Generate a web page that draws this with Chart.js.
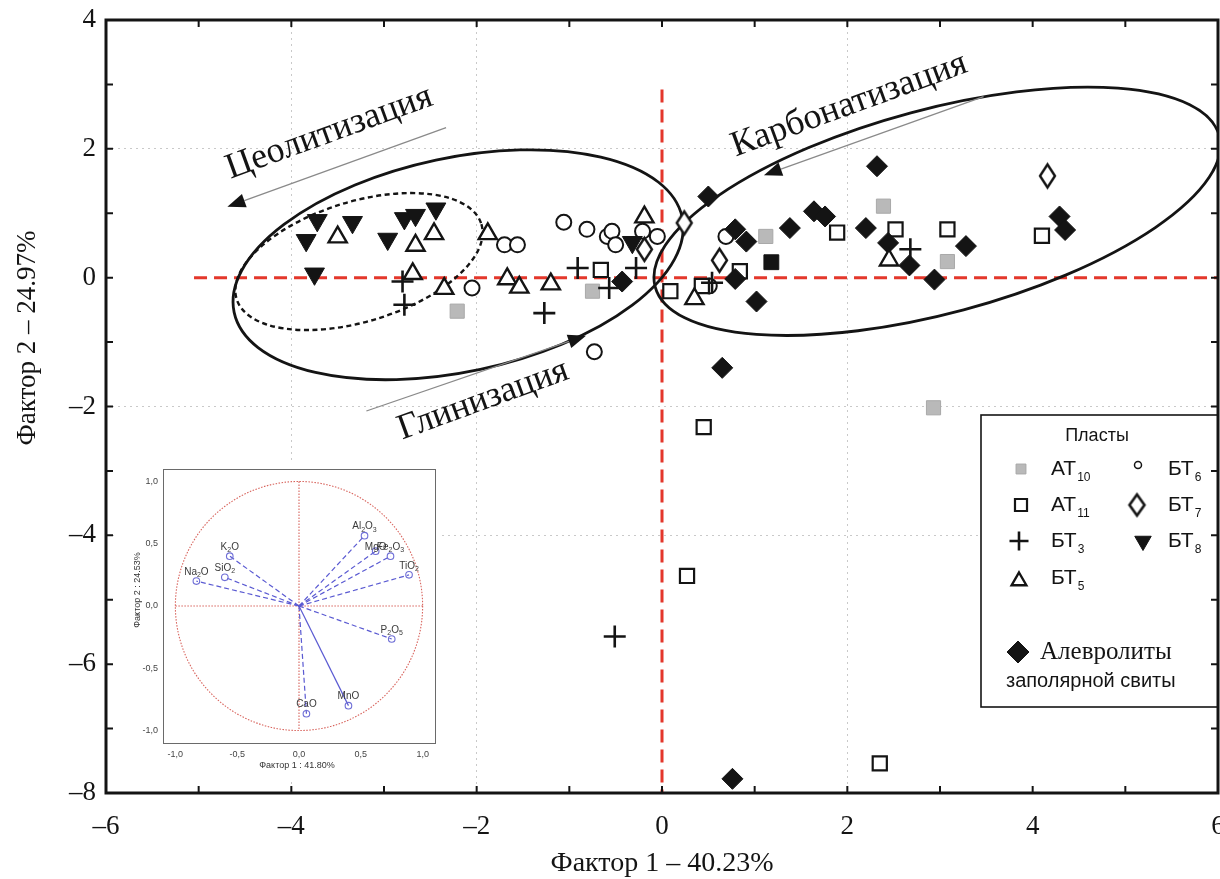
<!DOCTYPE html>
<html>
<head>
<meta charset="utf-8">
<script src="https://cdn.jsdelivr.net/npm/chart.js@4.4.1/dist/chart.umd.min.js"></script>
<style>
  html, body { margin: 0; padding: 0; background: #fff; overflow: hidden; }
  #wrap { position: relative; width: 1220px; height: 879px; }
  #inset { position: absolute; left: 118px; top: 462px; }
</style>
</head>
<body>
<div id="wrap">
  <canvas id="main" width="1220" height="879"></canvas>
  <canvas id="inset" width="322" height="318"></canvas>
</div>
<script>
// ---- data: [factor1, factor2] ----
const at10 = [[-2.21, -0.52], [-0.75, -0.21], [1.12, 0.64], [2.39, 1.11], [3.08, 0.25], [2.93, -2.02]];
const at11 = [[-0.66, 0.12], [0.09, -0.21], [0.43, -0.13], [0.84, 0.10], [1.89, 0.70], [2.52, 0.75],
  [3.08, 0.75], [4.10, 0.65], [0.45, -2.32], [0.27, -4.63], [2.35, -7.54]];
const bt3 = [[-2.80, -0.06], [-2.78, -0.42], [-0.91, 0.15], [-1.27, -0.55], [-0.28, 0.15], [-0.57, -0.16],
  [0.54, -0.08], [2.68, 0.44], [-0.51, -5.57]];
const bt5 = [[-3.50, 0.63], [-2.66, 0.50], [-2.46, 0.68], [-2.69, 0.06], [-2.35, -0.17], [-1.88, 0.68],
  [-1.67, -0.02], [-1.54, -0.15], [-1.20, -0.10], [-0.19, 0.94], [0.35, -0.33], [2.45, 0.27]];
const bt6 = [[-1.06, 0.86], [-0.81, 0.75], [-0.59, 0.64], [-0.54, 0.72], [-0.50, 0.51], [-0.21, 0.72],
  [-0.05, 0.64], [-1.70, 0.51], [-1.56, 0.51], [-0.73, -1.15], [-2.05, -0.16], [0.69, 0.64], [0.51, -0.13]];
const bt7 = [[0.24, 0.85], [0.62, 0.27], [-0.19, 0.44], [4.16, 1.58]];
const bt8 = [[-3.72, 0.89], [-3.84, 0.58], [-3.34, 0.86], [-3.75, 0.06], [-2.96, 0.60], [-2.78, 0.92],
  [-2.66, 0.97], [-2.44, 1.07], [-0.32, 0.55]];
const alev = [[0.50, 1.26], [0.79, 0.75], [0.91, 0.56], [0.79, -0.02], [1.02, -0.37], [1.38, 0.77],
  [1.64, 1.03], [1.76, 0.95], [2.20, 0.77], [2.44, 0.54], [0.65, -1.40], [-0.43, -0.06], [2.32, 1.73],
  [2.67, 0.19], [2.94, -0.03], [3.28, 0.49], [4.29, 0.95], [4.35, 0.74], [0.76, -7.78]];
const blackSq = [[1.18, 0.24]];

// inset: factor loadings
const loadNames = ['Na2O', 'SiO2', 'K2O', 'Al2O3', 'MgO', 'Fe2O3', 'TiO2', 'P2O5', 'MnO', 'CaO'];
const loadX = [-0.83, -0.60, -0.56, 0.53, 0.62, 0.74, 0.89, 0.75, 0.40, 0.06];
const loadY = [0.20, 0.23, 0.40, 0.565, 0.44, 0.40, 0.25, -0.265, -0.80, -0.865];

const SERIF = '"Liberation Serif", "Times New Roman", serif';
const SANS = '"Liberation Sans", Arial, sans-serif';
const INK = '#141414';

const pts = arr => arr.map(p => ({ x: p[0], y: p[1] }));
const fmt = v => (v < 0 ? '\u2013' + Math.abs(v) : String(v));

// tall open diamond used for БТ7
function diamond(w, h, lw) {
  const c = document.createElement('canvas');
  c.width = w + 8;
  c.height = h + 8;
  const g = c.getContext('2d');
  g.beginPath();
  g.moveTo(c.width / 2, 4);
  g.lineTo(c.width - 4, c.height / 2);
  g.lineTo(c.width / 2, c.height - 4);
  g.lineTo(4, c.height / 2);
  g.closePath();
  g.fillStyle = '#fff';
  g.fill();
  g.lineWidth = lw;
  g.strokeStyle = INK;
  g.stroke();
  return c;
}
const diamondPlot = diamond(15, 23, 2.4);
const diamondLegend = diamond(15, 21, 2.6);

// annotations
const ellipses = [
  { cx: -2.20, cy: 0.20, rx: 229, ry: 107, rot: -12, dash: [] },
  { cx: -3.27, cy: 0.25, rx: 128, ry: 60, rot: -17, dash: [5, 3.5] },
  { cx: 2.97, cy: 1.03, rx: 292, ry: 102, rot: -15, dash: [] },
];
const arrows = [
  { from: [-2.33, 2.33], to: [-4.69, 1.10] },
  { from: [3.47, 2.81], to: [1.10, 1.59] },
  { from: [-3.19, -2.07], to: [-0.82, -0.90] },
];
const processLabels = [
  { text: 'Цеолитизация', x: -3.59, y: 2.25 },
  { text: 'Карбонатизация', x: 2.02, y: 2.68 },
  { text: 'Глинизация', x: -1.93, y: -1.90 },
];

function mark(ctx, opt, x, y) {
  ctx.save();
  ctx.fillStyle = opt.fill;
  ctx.strokeStyle = opt.stroke;
  ctx.lineWidth = opt.lw;
  Chart.helpers.drawPoint(ctx, { pointStyle: opt.style, radius: opt.r, rotation: opt.rot || 0, borderWidth: opt.lw }, x, y);
  ctx.restore();
}

function subText(ctx, base, sub, x, y, bigFont, smallFont, dy) {
  ctx.font = bigFont;
  ctx.fillText(base, x, y);
  const w = ctx.measureText(base).width;
  ctx.font = smallFont;
  ctx.fillText(sub, x + w + 1, y + dy);
}

const decor = {
  id: 'decor',
  beforeDatasetsDraw(chart) {
    const { ctx, chartArea: a, scales: { x, y } } = chart;
    ctx.save();
    ctx.beginPath();
    ctx.rect(a.left, a.top, a.right - a.left, a.bottom - a.top);
    ctx.clip();

    // red zero lines
    ctx.strokeStyle = '#e4372b';
    ctx.lineWidth = 3;
    ctx.setLineDash([13, 7]);
    ctx.beginPath();
    ctx.moveTo(x.getPixelForValue(-5.05), y.getPixelForValue(0));
    ctx.lineTo(a.right, y.getPixelForValue(0));
    ctx.moveTo(x.getPixelForValue(0), y.getPixelForValue(2.92));
    ctx.lineTo(x.getPixelForValue(0), a.bottom);
    ctx.stroke();

    // ellipses
    ctx.strokeStyle = INK;
    ellipses.forEach(e => {
      ctx.setLineDash(e.dash);
      ctx.lineWidth = e.dash.length ? 2.4 : 2.8;
      ctx.beginPath();
      ctx.ellipse(x.getPixelForValue(e.cx), y.getPixelForValue(e.cy), e.rx, e.ry, e.rot * Math.PI / 180, 0, Math.PI * 2);
      ctx.stroke();
    });
    ctx.setLineDash([]);

    // arrows
    arrows.forEach(ar => {
      const x0 = x.getPixelForValue(ar.from[0]), y0 = y.getPixelForValue(ar.from[1]);
      const x1 = x.getPixelForValue(ar.to[0]), y1 = y.getPixelForValue(ar.to[1]);
      const ang = Math.atan2(y1 - y0, x1 - x0);
      const L = 18, W = 7;
      const bx = x1 - Math.cos(ang) * L, by = y1 - Math.sin(ang) * L;
      ctx.strokeStyle = '#8a8a8a';
      ctx.lineWidth = 1.3;
      ctx.beginPath();
      ctx.moveTo(x0, y0);
      ctx.lineTo(bx, by);
      ctx.stroke();
      ctx.fillStyle = INK;
      ctx.beginPath();
      ctx.moveTo(x1, y1);
      ctx.lineTo(bx + Math.sin(ang) * W, by - Math.cos(ang) * W);
      ctx.lineTo(bx - Math.sin(ang) * W, by + Math.cos(ang) * W);
      ctx.closePath();
      ctx.fill();
    });

    // process names
    ctx.fillStyle = INK;
    ctx.font = '36px ' + SERIF;
    ctx.textAlign = 'center';
    ctx.textBaseline = 'middle';
    processLabels.forEach(t => {
      ctx.save();
      ctx.translate(x.getPixelForValue(t.x), y.getPixelForValue(t.y));
      ctx.rotate(-20 * Math.PI / 180);
      ctx.fillText(t.text, 0, 0);
      ctx.restore();
    });
    ctx.restore();
  },
  afterDraw(chart) {
    const { ctx, chartArea: a, scales: { x, y } } = chart;
    ctx.save();

    // legend box
    const L = { left: 981, top: 415, right: a.right, bottom: 707 };
    ctx.fillStyle = '#fff';
    ctx.fillRect(L.left, L.top, L.right - L.left, L.bottom - L.top);
    ctx.strokeStyle = INK;
    ctx.lineWidth = 1.6;
    ctx.strokeRect(L.left, L.top, L.right - L.left, L.bottom - L.top);

    ctx.fillStyle = INK;
    ctx.textBaseline = 'middle';
    ctx.textAlign = 'center';
    ctx.font = '18px ' + SANS;
    ctx.fillText('Пласты', 1097, 436);
    ctx.textAlign = 'left';

    const big = '21px ' + SANS, small = '12px ' + SANS;
    const rows = [469, 505, 541, 578];
    mark(ctx, { style: 'rect', r: 7, fill: '#b9b9b9', stroke: '#a8a8a8', lw: 1 }, 1021, rows[0]);
    mark(ctx, { style: 'rect', r: 8.5, fill: '#fff', stroke: INK, lw: 2.2 }, 1021, rows[1]);
    mark(ctx, { style: 'cross', r: 9.5, fill: INK, stroke: INK, lw: 2.6 }, 1019, rows[2]);
    mark(ctx, { style: 'triangle', r: 8.5, fill: '#fff', stroke: INK, lw: 2.4 }, 1019, rows[3] + 3);
    mark(ctx, { style: 'circle', r: 3.5, fill: '#fff', stroke: INK, lw: 1.5 }, 1138, rows[0] - 4);
    mark(ctx, { style: diamondLegend, r: 10, fill: '#fff', stroke: INK, lw: 0 }, 1137, rows[1]);
    mark(ctx, { style: 'triangle', r: 9.5, rot: 180, fill: INK, stroke: INK, lw: 1 }, 1143, rows[2]);
    ctx.fillStyle = INK;
    subText(ctx, 'АТ', '10', 1051, rows[0], big, small, 9);
    subText(ctx, 'АТ', '11', 1051, rows[1], big, small, 9);
    subText(ctx, 'БТ', '3', 1051, rows[2], big, small, 9);
    subText(ctx, 'БТ', '5', 1051, rows[3], big, small, 9);
    subText(ctx, 'БТ', '6', 1168, rows[0], big, small, 9);
    subText(ctx, 'БТ', '7', 1168, rows[1], big, small, 9);
    subText(ctx, 'БТ', '8', 1168, rows[2], big, small, 9);

    mark(ctx, { style: 'rectRot', r: 11, fill: INK, stroke: INK, lw: 1 }, 1018, 652);
    ctx.fillStyle = INK;
    ctx.font = '25px ' + SERIF;
    ctx.fillText('Алевролиты', 1040, 652);
    ctx.font = '20px ' + SANS;
    ctx.fillText('заполярной свиты', 1006, 681);

    // frame
    ctx.strokeStyle = INK;
    ctx.lineWidth = 3;
    ctx.strokeRect(a.left, a.top, a.right - a.left, a.bottom - a.top);

    // inward tick marks on all sides
    ctx.lineWidth = 2;
    ctx.beginPath();
    for (let v = -6; v <= 6; v++) {
      const p = x.getPixelForValue(v);
      ctx.moveTo(p, a.bottom); ctx.lineTo(p, a.bottom - 7);
      ctx.moveTo(p, a.top); ctx.lineTo(p, a.top + 7);
    }
    for (let v = -8; v <= 4; v++) {
      const p = y.getPixelForValue(v);
      ctx.moveTo(a.left, p); ctx.lineTo(a.left + 7, p);
      ctx.moveTo(a.right, p); ctx.lineTo(a.right - 7, p);
    }
    ctx.stroke();

    // axis titles
    ctx.fillStyle = INK;
    ctx.textAlign = 'center';
    ctx.textBaseline = 'middle';
    ctx.font = '28px ' + SERIF;
    ctx.fillText('Фактор 1 \u2013 40.23%', 662, 864);
    ctx.font = '27px ' + SERIF;
    ctx.save();
    ctx.translate(28, 338);
    ctx.rotate(-Math.PI / 2);
    ctx.fillText('Фактор 2 \u2013 24.97%', 0, 0);
    ctx.restore();

    ctx.restore();
  }
};

const gridColor = c => {
  const v = c.tick ? c.tick.value : 0;
  return (v === 0 || v === -6 || v === 6 || v === -8 || v === 4) ? 'rgba(0,0,0,0)' : '#c9c9c9';
};

new Chart(document.getElementById('main'), {
  type: 'scatter',
  data: {
    datasets: [
      { label: 'БТ7', data: pts(bt7), pointStyle: diamondPlot, pointRadius: 11 },
      { label: 'БТ5', data: pts(bt5), pointStyle: 'triangle', pointRadius: 10.5, backgroundColor: '#fff', borderColor: INK, borderWidth: 2.4 },
      { label: 'БТ3', data: pts(bt3), pointStyle: 'cross', pointRadius: 11, borderColor: INK, borderWidth: 2.6 },
      { label: 'Алевролиты', data: pts(alev), pointStyle: 'rectRot', pointRadius: 10.5, backgroundColor: INK, borderColor: INK, borderWidth: 1 },
      { label: 'БТ8', data: pts(bt8), pointStyle: 'triangle', rotation: 180, pointRadius: 11.5, backgroundColor: INK, borderColor: INK, borderWidth: 1 },
      { label: 'АТ11', data: pts(at11), pointStyle: 'rect', pointRadius: 10, backgroundColor: '#fff', borderColor: INK, borderWidth: 2.2 },
      { label: 'АТ10', data: pts(at10), pointStyle: 'rect', pointRadius: 10, backgroundColor: '#b9b9b9', borderColor: '#a9a9a9', borderWidth: 1 },
      { label: 'БТ6', data: pts(bt6), pointStyle: 'circle', pointRadius: 7.5, backgroundColor: '#fff', borderColor: INK, borderWidth: 2 },
      { label: 'black', data: pts(blackSq), pointStyle: 'rect', pointRadius: 10.5, backgroundColor: INK, borderColor: INK, borderWidth: 1 },
    ]
  },
  options: {
    responsive: false,
    animation: false,
    devicePixelRatio: 1,
    events: [],
    layout: { autoPadding: false, padding: { top: 20, right: 2, left: 0, bottom: 0 } },
    plugins: { legend: { display: false }, tooltip: { enabled: false } },
    scales: {
      x: {
        type: 'linear', min: -6, max: 6,
        ticks: { stepSize: 2, padding: 18, color: INK, font: { family: SERIF, size: 27 }, callback: fmt, maxRotation: 0, autoSkip: false },
        grid: { drawTicks: false, color: gridColor, lineWidth: 1 },
        border: { display: false, dash: [2, 4] },
        afterFit(s) { s.height = 86; s.paddingLeft = 0; s.paddingRight = 0; }
      },
      y: {
        type: 'linear', min: -8, max: 4,
        ticks: { stepSize: 2, padding: 10, color: INK, font: { family: SERIF, size: 27 }, callback: fmt, autoSkip: false },
        grid: { drawTicks: false, color: gridColor, lineWidth: 1 },
        border: { display: false, dash: [2, 4] },
        afterFit(s) { s.width = 106; s.paddingTop = 0; s.paddingBottom = 0; }
      }
    }
  },
  plugins: [decor]
});

// ---- inset: loadings circle ----
const insetDecor = {
  id: 'insetDecor',
  beforeDraw(chart) {
    const { ctx, width, height } = chart;
    ctx.save();
    ctx.fillStyle = '#fff';
    ctx.fillRect(0, 0, width, height);
    ctx.restore();
  },
  beforeDatasetsDraw(chart) {
    const { ctx, scales: { x, y } } = chart;
    const cx = x.getPixelForValue(0), cy = y.getPixelForValue(0);
    const rx = x.getPixelForValue(1) - cx, ry = cy - y.getPixelForValue(1);
    ctx.save();
    ctx.strokeStyle = '#d8635c';
    ctx.lineWidth = 1.1;
    ctx.setLineDash([1.5, 1.5]);
    ctx.beginPath();
    ctx.ellipse(cx, cy, rx, ry, 0, 0, Math.PI * 2);
    ctx.moveTo(cx - rx, cy); ctx.lineTo(cx + rx, cy);
    ctx.moveTo(cx, cy - ry); ctx.lineTo(cx, cy + ry);
    ctx.stroke();
    ctx.restore();
  },
  afterDraw(chart) {
    const { ctx, chartArea: a, scales: { x, y } } = chart;
    ctx.save();
    ctx.strokeStyle = '#6a6a6a';
    ctx.lineWidth = 1;
    ctx.strokeRect(a.left + 0.5, a.top + 0.5, a.right - a.left, a.bottom - a.top);

    ctx.fillStyle = '#3a3a3a';
    ctx.textBaseline = 'middle';
    loadNames.forEach((n, i) => {
      const px = x.getPixelForValue(loadX[i]);
      const py = y.getPixelForValue(loadY[i]) - (n === 'MgO' ? 4 : 9);
      const parts = n.split(/(\d)/).filter(s => s);
      let w = 0;
      parts.forEach(p => { ctx.font = (/\d/.test(p) ? '7px ' : '10px ') + SANS; w += ctx.measureText(p).width; });
      let cx = px - w / 2;
      ctx.textAlign = 'left';
      parts.forEach(p => {
        const isSub = /\d/.test(p);
        ctx.font = (isSub ? '7px ' : '10px ') + SANS;
        ctx.fillText(p, cx, py + (isSub ? 3 : 0));
        cx += ctx.measureText(p).width;
      });
    });

    ctx.fillStyle = '#333';
    ctx.font = '9px ' + SANS;
    ctx.textAlign = 'center';
    ctx.fillText('Фактор 1 : 41.80%', (a.left + a.right) / 2 - 2, 304);
    ctx.save();
    ctx.translate(20, 128);
    ctx.rotate(-Math.PI / 2);
    ctx.fillText('Фактор 2 : 24.53%', 0, 0);
    ctx.restore();
    ctx.restore();
  }
};

const insetFmt = v => v.toFixed(1).replace('.', ',');

new Chart(document.getElementById('inset'), {
  type: 'scatter',
  data: {
    datasets: loadNames.map((n, i) => ({
      label: n,
      data: [{ x: 0, y: 0 }, { x: loadX[i], y: loadY[i] }],
      showLine: true,
      borderColor: '#5a5ad2',
      borderWidth: 1.2,
      borderDash: n === 'MnO' ? [] : [5, 3],
      pointRadius: [0, 3.3],
      pointBorderColor: '#6e6ed6',
      pointBackgroundColor: 'rgba(255,255,255,0)',
      pointBorderWidth: 1.1
    }))
  },
  options: {
    responsive: false,
    animation: false,
    devicePixelRatio: 1,
    events: [],
    layout: { autoPadding: false, padding: { top: 7, right: 5, left: 0, bottom: 0 } },
    plugins: { legend: { display: false }, tooltip: { enabled: false } },
    scales: {
      x: {
        type: 'linear', min: -1.1, max: 1.1,
        ticks: { stepSize: 0.5, includeBounds: false, padding: 6, color: '#444', font: { family: SANS, size: 9 }, callback: insetFmt, maxRotation: 0 },
        grid: { display: false, drawTicks: false },
        border: { display: false },
        afterFit(s) { s.height = 37; s.paddingLeft = 0; s.paddingRight = 0; }
      },
      y: {
        type: 'linear', min: -1.1, max: 1.1,
        ticks: { stepSize: 0.5, includeBounds: false, padding: 5, color: '#444', font: { family: SANS, size: 9 }, callback: insetFmt },
        grid: { display: false, drawTicks: false },
        border: { display: false },
        afterFit(s) { s.width = 45; s.paddingTop = 0; s.paddingBottom = 0; }
      }
    }
  },
  plugins: [insetDecor]
});
</script>
</body>
</html>
